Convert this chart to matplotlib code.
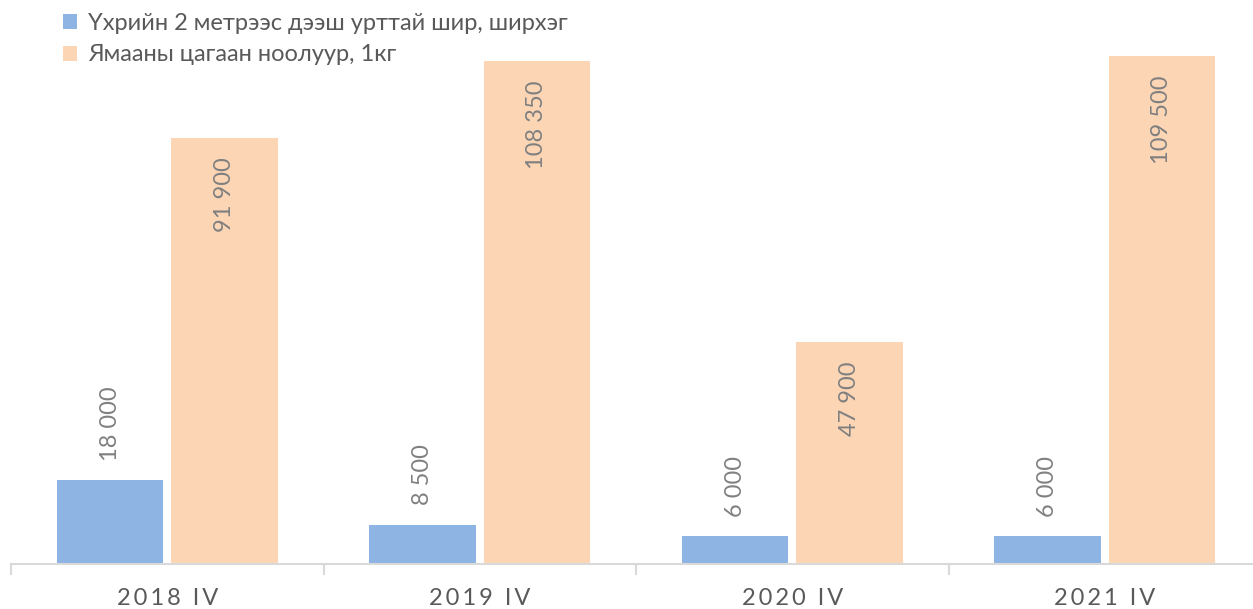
import matplotlib
matplotlib.use("Agg")
import matplotlib.pyplot as plt
import numpy as np

categories = ["2018 IV", "2019 IV", "2020 IV", "2021 IV"]
series_names = ["Үхрийн 2 метрээс дээш урттай шир, ширхэг", "Ямааны цагаан ноолуур, 1кг"]
hide_values = [18000, 8500, 6000, 6000]
cashmere_values = [91900, 108350, 47900, 109500]

BLUE = "#8EB4E3"
ORANGE = "#FCD5B5"
LABEL_COLOR = "#808080"
TEXT_COLOR = "#595959"
FONT = ["Lato", "DejaVu Sans"]

def fmt(v):
    return f"{v:,}".replace(",", " ")

def spaced(s):
    return "\u2009".join(list(s))

fig = plt.figure(figsize=(12.53, 6.09), dpi=100)
ax = fig.add_axes([11/1253, 45/609, 1250/1253, 564/609])

x = np.arange(len(categories))
w = 0.34
off = 0.183
b1 = ax.bar(x - off, hide_values, w, color=BLUE, label=series_names[0], zorder=2)
b2 = ax.bar(x + off, cashmere_values, w, color=ORANGE, label=series_names[1], zorder=2)

for rect, v in zip(b1, hide_values):
    ax.annotate(fmt(v), (rect.get_x() + rect.get_width()/2, rect.get_height()),
                xytext=(0, 14), textcoords="offset points", rotation=90,
                ha="center", va="bottom", fontsize=17, color=LABEL_COLOR,
                family=FONT)
for rect, v in zip(b2, cashmere_values):
    ax.annotate(fmt(v), (rect.get_x() + rect.get_width()/2, rect.get_height()),
                xytext=(0, -14), textcoords="offset points", rotation=90,
                ha="center", va="top", fontsize=17, color=LABEL_COLOR,
                family=FONT)

ax.set_xlim(-0.5, len(categories) - 0.5)
ax.set_ylim(0, 121577)
ax.set_yticks([])
for s in ["top", "right", "left"]:
    ax.spines[s].set_visible(False)
ax.spines["bottom"].set_color("#D9D9D9")
ax.spines["bottom"].set_linewidth(1.5)
ax.set_xticks(np.arange(len(categories) + 1) - 0.5, minor=True)
ax.tick_params(axis="x", which="minor", length=8, color="#D9D9D9", width=1.5)
ax.set_xticks(x)
ax.set_xticklabels([spaced(c) for c in categories], fontsize=17, color=TEXT_COLOR,
                   family=FONT)
ax.tick_params(axis="x", which="major", length=0, pad=17)

leg = fig.legend(handles=[b1, b2], labels=series_names, loc="upper left",
                 bbox_to_anchor=(42/1253, 1.014), frameon=False,
                 prop={"family": FONT, "size": 17}, handlelength=0.6,
                 handleheight=0.6, handletextpad=0.45, labelspacing=0.45)
for t in leg.get_texts():
    t.set_color(TEXT_COLOR)

fig.savefig("out.png", dpi=100)
